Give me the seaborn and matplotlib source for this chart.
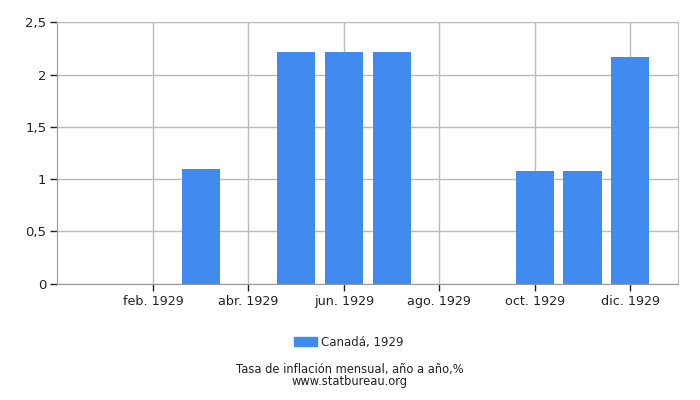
import pandas as pd
import seaborn as sns
import matplotlib.pyplot as plt
from matplotlib.patches import Patch

months = ["ene.", "feb.", "mar.", "abr.", "may.", "jun.", "jul.", "ago.", "sep.", "oct.", "nov.", "dic."]
values = [0, 0, 1.10, 0, 2.22, 2.22, 2.22, 0, 0, 1.08, 1.08, 2.17]
tick_idx = [1, 3, 5, 7, 9, 11]
tick_labels = ["feb. 1929", "abr. 1929", "jun. 1929", "ago. 1929", "oct. 1929", "dic. 1929"]
y_ticks = [0, 0.5, 1, 1.5, 2, 2.5]
y_labels = ["0", "0,5", "1", "1,5", "2", "2,5"]
series_name = "Canadá, 1929"
bar_color = "#418bee"

df = pd.DataFrame({"month": months, "value": values})

sns.set_style("white")
plt.rcParams['font.family'] = ['DejaVu Sans']

fig = plt.figure(figsize=(7, 4), dpi=100)
ax = fig.add_axes([0.0821, 0.291, 0.8865, 0.653])

sns.barplot(data=df, x="month", y="value", order=months, color=bar_color,
            saturation=1, width=0.8, linewidth=0, ax=ax, zorder=3)

ax.set_xlim(-1.0, 12.0)
ax.set_ylim(0, 2.5)
ax.set_xticks(tick_idx)
ax.set_xticklabels(tick_labels, fontsize=9.2, color="#222222")
ax.set_yticks(y_ticks)
ax.set_yticklabels(y_labels, fontsize=9.5, color="#222222")
ax.set_xlabel("")
ax.set_ylabel("")

ax.grid(True, color="#bbbbbb", linewidth=1, zorder=0)
ax.set_axisbelow(True)
ax.tick_params(axis="both", direction="out", length=5, width=1, color="#222222", pad=3,
               bottom=True, left=True)
for side in ["top", "right"]:
    ax.spines[side].set_color("#bbbbbb")
for side in ["left", "bottom"]:
    ax.spines[side].set_color("#999999")

ax.legend(handles=[Patch(color=bar_color, label=series_name)], loc="upper center",
          bbox_to_anchor=(0.47, -0.16), frameon=False, fontsize=8.5,
          handlelength=1.9, handleheight=0.8, handletextpad=0.4)

fig.text(0.5, 0.068, "Tasa de inflación mensual, año a año,%", ha="center", fontsize=8.3, color="#222222")
fig.text(0.5, 0.037, "www.statbureau.org", ha="center", fontsize=8.3, color="#222222")

fig.savefig("out.png", dpi=100)
